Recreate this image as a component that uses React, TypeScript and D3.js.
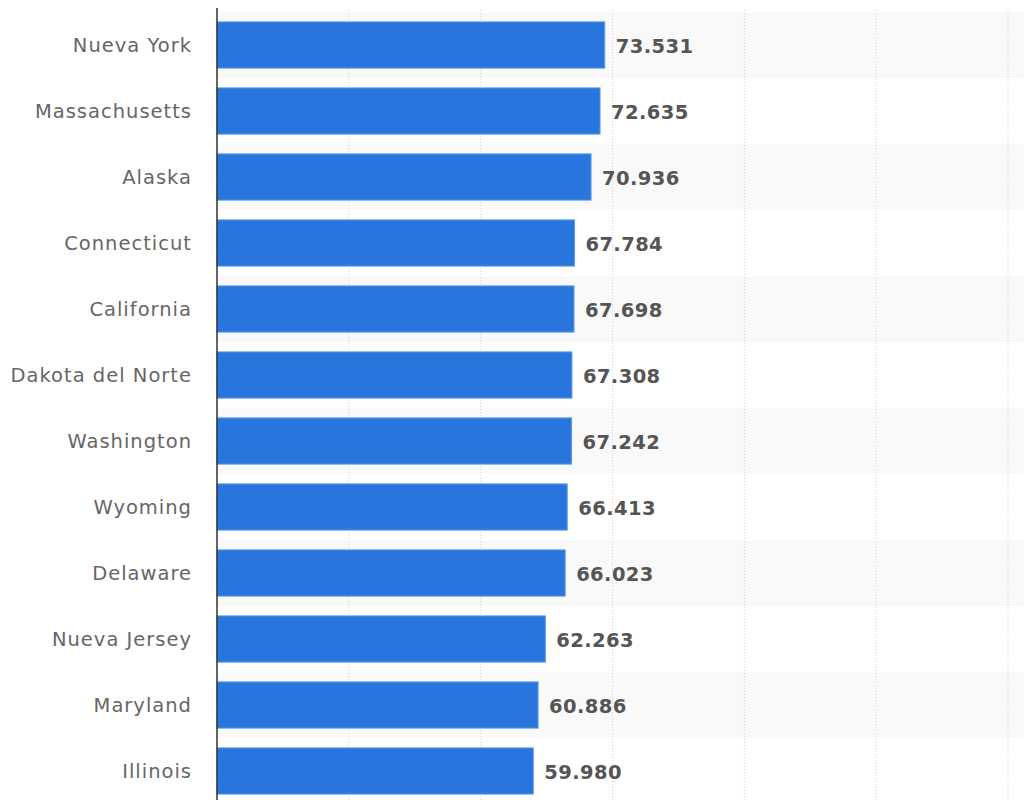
import React from "react";
import * as d3 from "d3";

const states = [
  "Nueva York",
  "Massachusetts",
  "Alaska",
  "Connecticut",
  "California",
  "Dakota del Norte",
  "Washington",
  "Wyoming",
  "Delaware",
  "Nueva Jersey",
  "Maryland",
  "Illinois",
];
const values = [73531, 72635, 70936, 67784, 67698, 67308, 67242, 66413, 66023, 62263, 60886, 59980];
const xTicks = [0, 25000, 50000, 75000, 100000, 125000, 150000];

const W = 1024;
const H = 800;
const left = 217;
const top = 12;
const bottom = 804;

export default function App() {
  const x = d3.scaleLinear().domain([0, 150000]).range([left, 1008]);
  const y = d3
    .scaleBand<string>()
    .domain(states)
    .range([top, bottom])
    .paddingInner(0.3)
    .paddingOuter(0.15);
  const step = y.step();
  const fmt = (v: number) => d3.format(",")(v).replace(/,/g, ".");
  return (
    <svg
      width={W}
      height={H}
      style={{ position: "absolute", left: 0, top: 0, background: "#fff" }}
    >
      {states.map((s, i) =>
        i % 2 === 0 ? (
          <rect
            key={"band" + s}
            x={left}
            y={top + i * step}
            width={W - left}
            height={step}
            fill="#f9f9f9"
          />
        ) : null
      )}
      {xTicks.map((t) => (
        <line
          key={"g" + t}
          x1={x(t)}
          x2={x(t)}
          y1={10}
          y2={H}
          stroke="#d0d0d0"
          strokeDasharray="1,2"
        />
      ))}
      {states.map((s, i) => (
        <g key={s}>
          <rect
            x={x(0)}
            y={y(s)!}
            width={x(values[i]) - x(0)}
            height={y.bandwidth()}
            fill="#2876dd"
            stroke="#5b9be9"
            strokeWidth={1}
          />
          <text
            x={192}
            y={y(s)! + y.bandwidth() / 2}
            dy="0.35em"
            textAnchor="end"
            fontFamily="DejaVu Sans"
            fontSize={19.5}
            letterSpacing={1}
            fill="#666"
          >
            {s}
          </text>
          <text
            x={x(values[i]) + 11}
            y={y(s)! + y.bandwidth() / 2}
            dy="0.4em"
            textAnchor="start"
            fontFamily="DejaVu Sans"
            fontWeight="bold"
            fontSize={19.5}
            letterSpacing={0.4}
            fill="#555"
          >
            {fmt(values[i])}
          </text>
        </g>
      ))}
      <line x1={left} x2={left} y1={8} y2={H} stroke="#333" strokeWidth={1.5} />
    </svg>
  );
}
